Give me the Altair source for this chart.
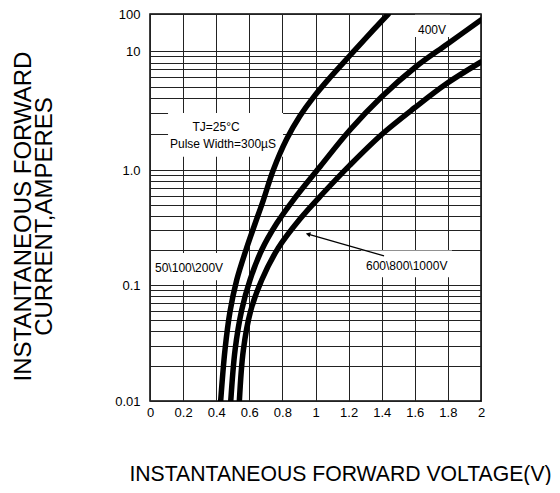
import altair as alt
import pandas as pd

# ---- data ----
v_low = [0.427, 0.453, 0.483, 0.524, 0.584, 0.634, 0.685, 0.745, 0.826, 0.906, 0.987, 1.088, 1.208, 1.329, 1.44]
i_low = [0.01, 0.0275, 0.0585, 0.1105, 0.21, 0.339, 0.548, 1.0, 1.82, 2.84, 4.08, 5.99, 9.17, 29.7, 100.0]

v_400 = [0.488, 0.514, 0.554, 0.604, 0.675, 0.766, 0.866, 1.027, 1.208, 1.40, 1.601, 1.793, 2.0]
i_400 = [0.01, 0.0275, 0.0608, 0.1105, 0.2016, 0.344, 0.548, 1.066, 2.17, 4.13, 7.27, 15.0, 68.9]

v_high = [0.54, 0.564, 0.608, 0.675, 0.775, 0.906, 1.047, 1.208, 1.40, 1.601, 1.793, 2.0]
i_high = [0.01, 0.0275, 0.0597, 0.1105, 0.210, 0.375, 0.631, 1.10, 1.99, 3.35, 5.33, 8.09]

series_names = ["50\\100\\200V", "400V", "600\\800\\1000V"]

x_tick_values = [0, 0.2, 0.4, 0.6, 0.8, 1.0, 1.2, 1.4, 1.6, 1.8, 2.0]
x_tick_labels = ["0", "0.2", "0.4", "0.6", "0.8", "1", "1.2", "1.4", "1.6", "1.8", "2"]

y_tick_values = [0.01, 0.1, 1.0, 10.0, 100.0]
y_tick_labels = ["0.01", "0.1", "1.0", "10", "100"]
y_grid_values = [m * d for d in (0.01, 0.1, 1.0) for m in range(1, 10)] + [10.0, 100.0]

# annotation texts (anchored in data units)
label_text = ["TJ=25°C", "Pulse Width=300µS", "50\\100\\200V", "600\\800\\1000V", "400V"]
label_v = [0.399, 0.441, 0.236, 1.551, 1.704]
label_i = [2.3, 1.65, 0.14, 0.146, 37.0]

# white boxes behind annotations (data units)
box_v1 = [0.109, 0.012, 1.275, 1.601]
box_v2 = [0.804, 0.459, 1.825, 1.813]
box_i1 = [1.29, 0.11, 0.117, 23.9]
box_i2 = [3.01, 0.19, 0.20, 96.0]

# leader arrow (data units)
arrow_v = [0.955]
arrow_i = [0.277]
arrow_v2 = [1.414]
arrow_i2 = [0.179]

# ---- tables ----
curves = pd.concat([
    pd.DataFrame({"v": v_low, "i": i_low, "s": series_names[0], "o": range(len(v_low))}),
    pd.DataFrame({"v": v_400, "i": i_400, "s": series_names[1], "o": range(len(v_400))}),
    pd.DataFrame({"v": v_high, "i": i_high, "s": series_names[2], "o": range(len(v_high))}),
])
labels = pd.DataFrame({"v": label_v, "i": label_i, "t": label_text})
boxes = pd.DataFrame({"v1": box_v1, "v2": box_v2, "i1": box_i1, "i2": box_i2})
arrow = pd.DataFrame({"v": arrow_v, "i": arrow_i, "v2": arrow_v2, "i2": arrow_i2})


def label_expr(values, texts):
    parts = []
    for val, txt in zip(values, texts):
        parts.append(f"abs(datum.value - {val}) < {val * 1e-6 + 1e-9} ? '{txt}'")
    return " : ".join(parts) + " : ''"


FONT = "Liberation Sans"

x_scale = alt.Scale(domain=[0, 2], nice=False, zero=False)
y_scale = alt.Scale(type="log", domain=[0.01, 0.1, 1, 10, 100],
                    range=[387, 271, 156, 37, 0], nice=False)

x_axis = alt.Axis(
    values=x_tick_values, labelExpr=label_expr(x_tick_values, x_tick_labels),
    grid=True, gridColor="#222222", gridWidth=1, ticks=False, domain=False,
    labelFont=FONT, labelFontSize=13, labelColor="black", labelPadding=5,
    labelFlush=False, labelOverlap=False,
    title="INSTANTANEOUS FORWARD VOLTAGE(V)", titleFont=FONT, titleFontSize=21.2,
    titleFontWeight="normal", titleColor="black", titleX=190, titleY=79,
    titleBaseline="alphabetic", titleAlign="center",
)
y_axis = alt.Axis(
    values=y_grid_values, labelExpr=label_expr(y_tick_values, y_tick_labels),
    grid=True, gridColor="#222222", gridWidth=1, ticks=False, domain=False,
    labelFont=FONT, labelFontSize=13, labelColor="black", labelPadding=10,
    labelFlush=False, labelOverlap=False,
    title=["INSTANTANEOUS FORWARD", "CURRENT,AMPERES"], titleFont=FONT,
    titleFontSize=24, titleFontWeight="normal", titleColor="black",
    titleAngle=270, titleX=-127, titleY=202, titleAlign="center",
    titleBaseline="middle", titleLineHeight=21,
)

base_x = alt.X("v:Q", scale=x_scale, axis=x_axis)
base_y = alt.Y("i:Q", scale=y_scale, axis=y_axis)

box_layer = alt.Chart(boxes).mark_rect(fill="white", stroke=None).encode(
    x=alt.X("v1:Q", scale=x_scale, axis=x_axis), x2="v2:Q",
    y=alt.Y("i1:Q", scale=y_scale, axis=y_axis), y2="i2:Q",
)

curve_layer = alt.Chart(curves).mark_line(
    color="black", strokeWidth=5.5, strokeCap="round", strokeJoin="round",
    interpolate="catmull-rom", clip=True,
).encode(x=base_x, y=base_y, detail="s:N", order="o:Q")

arrow_layer = alt.Chart(arrow).mark_rule(color="black", strokeWidth=1.2).encode(
    x=base_x, y=base_y, x2="v2:Q", y2="i2:Q",
)
arrow_head = alt.Chart(arrow).mark_point(
    shape="triangle-up", filled=True, color="black", size=28, angle=286, opacity=1,
).encode(x=base_x, y=base_y)

text_layer = alt.Chart(labels).mark_text(
    font=FONT, fontSize=12, color="black", align="center", baseline="middle",
).encode(x=base_x, y=base_y, text="t:N")

chart = alt.layer(box_layer, curve_layer, arrow_layer, arrow_head, text_layer).properties(
    width=331, height=387,
    padding={"left": 142, "top": 6, "right": 71, "bottom": 84},
    autosize=alt.AutoSizeParams(type="none"),
    background="white",
).configure_view(stroke="black", strokeWidth=1.5)

chart.save("out.html", embed_options={"renderer": "svg", "actions": False})
